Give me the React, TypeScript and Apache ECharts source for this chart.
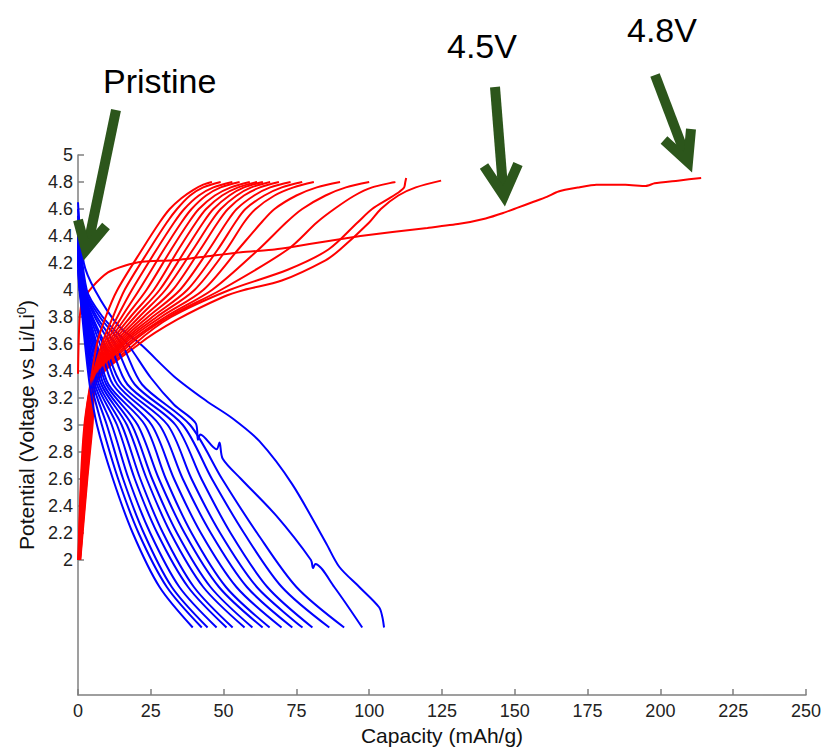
import React, { useEffect, useRef } from "react";
import * as echarts from "echarts";

// ---------- data (capacity mAh/g, potential V) ----------
const xTickValues = [0, 25, 50, 75, 100, 125, 150, 175, 200, 225, 250];
const yTickValues = [2, 2.2, 2.4, 2.6, 2.8, 3, 3.2, 3.4, 3.6, 3.8, 4, 4.2, 4.4, 4.6, 4.8, 5];

const pristineCharge: number[][] = [
  [0, 3.38], [0.2, 3.6], [0.6, 3.8], [1.5, 3.92], [4.8, 4.02], [10.3, 4.13], [16, 4.18], [22, 4.21],
  [33, 4.22], [44.5, 4.25], [56, 4.28], [67.5, 4.3], [74, 4.32], [85, 4.36], [97, 4.4], [108, 4.43],
  [120, 4.46], [131, 4.49], [140, 4.53], [146, 4.57], [151, 4.61], [156, 4.65], [161, 4.69],
  [165, 4.73], [172, 4.76], [178, 4.78], [188, 4.78], [195, 4.77], [198, 4.79], [206, 4.81], [214, 4.83],
];

// later charge curves, largest capacity first (cycle order)
const chargeCurves: number[][][] = [
  [[0.8, 2.0], [3.2, 2.6], [5.0, 3.0], [6.0, 3.3], [21, 3.6], [34, 3.78], [50, 3.95], [57, 4.0], [70, 4.07], [85, 4.22], [90, 4.3], [100, 4.5], [104, 4.6], [110, 4.7], [116, 4.76], [124.7, 4.81]],
  [[0.7, 2.0], [3.0, 2.6], [4.8, 3.0], [5.9, 3.3], [19.5, 3.6], [32, 3.8], [52, 4.0], [72, 4.15], [86, 4.3], [96, 4.5], [101, 4.6], [107, 4.68], [110.5, 4.73], [112, 4.76], [112.4, 4.8], [112.7, 4.83]],
  [[0.65, 2.0], [2.8, 2.6], [4.6, 3.0], [5.8, 3.3], [18, 3.6], [31, 3.8], [49, 4.0], [72, 4.3], [82, 4.5], [88, 4.6], [95, 4.7], [101, 4.76], [109, 4.8]],
  [[0.6, 2.0], [2.6, 2.6], [4.4, 3.0], [5.7, 3.3], [17, 3.6], [30, 3.8], [46, 4.0], [62, 4.3], [71.5, 4.5], [77, 4.6], [85, 4.7], [92, 4.76], [100, 4.8]],
  [[0.55, 2.0], [2.4, 2.6], [4.2, 3.0], [5.6, 3.3], [16, 3.6], [28.5, 3.8], [43, 4.0], [55, 4.3], [63, 4.5], [67.5, 4.6], [75, 4.7], [82, 4.76], [90, 4.8]],
  [[0.5, 2.0], [2.3, 2.6], [4.0, 3.0], [5.5, 3.3], [15.2, 3.6], [27, 3.8], [40, 4.0], [51, 4.3], [57, 4.5], [61, 4.6], [67.5, 4.7], [74, 4.76], [81, 4.8]],
  [[0.45, 2.0], [2.2, 2.6], [3.8, 3.0], [5.4, 3.3], [14.5, 3.6], [25.5, 3.8], [37.5, 4.0], [48, 4.3], [54, 4.5], [57.5, 4.6], [64, 4.7], [70, 4.76], [77, 4.8]],
  [[0.4, 2.0], [2.1, 2.6], [3.6, 3.0], [5.3, 3.3], [13.8, 3.6], [24, 3.8], [35, 4.0], [45, 4.3], [51, 4.5], [54.5, 4.6], [60.5, 4.7], [66, 4.76], [73, 4.8]],
  [[0.4, 2.0], [2.0, 2.6], [3.5, 3.0], [5.2, 3.3], [13.1, 3.6], [22.5, 3.8], [32.5, 4.0], [42, 4.3], [48, 4.5], [51.5, 4.6], [57, 4.7], [62.5, 4.76], [69, 4.8]],
  [[0.35, 2.0], [1.9, 2.6], [3.4, 3.0], [5.1, 3.3], [12.4, 3.6], [21, 3.8], [30, 4.0], [39.5, 4.3], [45.5, 4.5], [49, 4.6], [54.5, 4.7], [59.5, 4.76], [66, 4.8]],
  [[0.3, 2.0], [1.8, 2.6], [3.2, 3.0], [5.0, 3.3], [11.7, 3.6], [19.5, 3.8], [28, 4.0], [37, 4.3], [43, 4.5], [46.5, 4.6], [52, 4.7], [57, 4.76], [63.5, 4.8]],
  [[0.3, 2.0], [1.7, 2.6], [3.0, 3.0], [4.9, 3.3], [11, 3.6], [18, 3.8], [26, 4.0], [34.5, 4.3], [40.5, 4.5], [44, 4.6], [49.5, 4.7], [55, 4.76], [61.5, 4.8]],
  [[0.25, 2.0], [1.6, 2.6], [2.9, 3.0], [4.8, 3.3], [10.3, 3.6], [16.5, 3.8], [23.5, 4.0], [32, 4.3], [38, 4.5], [41.5, 4.6], [47, 4.7], [52.5, 4.76], [59, 4.8]],
  [[0.2, 2.0], [1.5, 2.6], [2.8, 3.0], [4.7, 3.3], [9.6, 3.6], [15, 3.8], [21, 4.0], [29.5, 4.3], [35.5, 4.5], [39, 4.6], [44, 4.7], [49, 4.76], [55.5, 4.8]],
  [[0.2, 2.0], [1.4, 2.6], [2.6, 3.0], [4.6, 3.3], [8.9, 3.6], [13.5, 3.8], [18.5, 4.0], [27, 4.3], [33, 4.5], [36.5, 4.6], [41.5, 4.7], [46.5, 4.76], [53, 4.8]],
  [[0.15, 2.0], [1.2, 2.6], [2.4, 3.0], [4.4, 3.3], [8.2, 3.6], [12, 3.8], [16, 4.0], [24.5, 4.3], [30.5, 4.5], [34, 4.6], [38.5, 4.7], [43, 4.76], [49, 4.8]],
  [[0.1, 2.0], [1.0, 2.6], [2.2, 3.0], [4.2, 3.3], [6.5, 3.6], [9.5, 3.8], [13.5, 4.0], [22, 4.3], [28, 4.5], [31.5, 4.6], [35.5, 4.68], [39.5, 4.74], [43, 4.78], [46, 4.8]],
];

// discharge curves, largest capacity first (cycle order)
const dischargeCurves: number[][][] = [
  [[0, 4.65], [2, 4.2], [5.8, 4.0], [13.7, 3.74], [21.9, 3.59], [33, 3.36], [44, 3.18], [53, 3.05], [62.3, 2.88], [73.6, 2.56], [85.3, 2.12], [89.7, 1.95], [96.6, 1.8], [103.4, 1.65], [104.5, 1.58], [105.1, 1.5]],
  [[0, 4.6], [3, 4.0], [8.5, 3.8], [17, 3.6], [25, 3.35], [33, 3.15], [40.5, 3.01], [41.2, 2.89], [42, 2.93], [47.6, 2.82], [48.6, 2.87], [49.7, 2.75], [56, 2.6], [68, 2.33], [80, 2.0], [80.7, 1.94], [81.5, 1.97], [88, 1.8], [97.6, 1.5]],
  [[0, 4.55], [2.5, 4.0], [7.5, 3.8], [15, 3.6], [22, 3.3], [38.5, 3.0], [49.5, 2.6], [61.5, 2.2], [75, 1.8], [91.4, 1.5]],
  [[0, 4.52], [2.2, 4.0], [6.5, 3.8], [12.7, 3.6], [19.5, 3.3], [36, 3.0], [46, 2.6], [57, 2.2], [70, 1.8], [86.3, 1.5]],
  [[0, 4.5], [2, 4.0], [5.8, 3.8], [11, 3.6], [17, 3.3], [33.5, 3.0], [42.4, 2.6], [52.4, 2.2], [65, 1.8], [80.5, 1.5]],
  [[0, 4.48], [1.8, 4.0], [5, 3.8], [9.2, 3.6], [15, 3.3], [30.8, 3.0], [39, 2.6], [48.8, 2.2], [61.4, 1.8], [77.1, 1.5]],
  [[0, 4.45], [1.6, 4.0], [4.6, 3.8], [8.5, 3.6], [13.5, 3.3], [28, 3.0], [36, 2.6], [45.6, 2.2], [58, 1.8], [73.6, 1.5]],
  [[0, 4.42], [1.5, 4.0], [4.2, 3.8], [7.5, 3.6], [12, 3.3], [25.3, 3.0], [33, 2.6], [42.2, 2.2], [54.4, 1.8], [69.9, 1.5]],
  [[0, 4.4], [1.4, 4.0], [3.8, 3.8], [6.5, 3.6], [10.5, 3.3], [23, 3.0], [30.2, 2.6], [39, 2.2], [50.8, 1.8], [65.8, 1.5]],
  [[0, 4.38], [1.3, 4.0], [3.5, 3.8], [6, 3.6], [9.7, 3.3], [20.5, 3.0], [27.8, 2.6], [36.6, 2.2], [48.4, 1.8], [63.4, 1.5]],
  [[0, 4.35], [1.2, 4.0], [3.2, 3.8], [5.5, 3.6], [8.8, 3.3], [18.5, 3.0], [25.5, 2.6], [34, 2.2], [45.5, 1.8], [59.9, 1.5]],
  [[0, 4.32], [1.1, 4.0], [2.9, 3.8], [5, 3.6], [8, 3.3], [16.8, 3.0], [23.6, 2.6], [31.8, 2.2], [43, 1.8], [57.2, 1.5]],
  [[0, 4.3], [1, 4.0], [2.6, 3.8], [4.5, 3.6], [7.2, 3.3], [15, 3.0], [21.4, 2.6], [29.2, 2.2], [39.8, 1.8], [53.1, 1.5]],
  [[0, 4.28], [0.9, 4.0], [2.4, 3.8], [4, 3.6], [6.5, 3.3], [13.4, 3.0], [19.5, 2.6], [27.2, 2.2], [37.8, 1.8], [51, 1.5]],
  [[0, 4.25], [0.8, 4.0], [2.2, 3.8], [3.6, 3.6], [5.8, 3.3], [11.6, 3.0], [17.4, 2.6], [24.8, 2.2], [34.8, 1.8], [47.6, 1.5]],
  [[0, 4.22], [0.7, 4.0], [2, 3.8], [3.2, 3.6], [5.2, 3.3], [9.9, 3.0], [15.5, 2.6], [22.6, 2.2], [32.2, 1.8], [44.5, 1.5]],
  [[0, 4.2], [0.6, 4.0], [1.8, 3.8], [2.8, 3.6], [4.6, 3.3], [8.2, 3.0], [13.8, 2.6], [20.8, 2.2], [30.5, 1.8], [42.5, 1.5]],
  [[0, 4.15], [0.5, 4.0], [1.5, 3.8], [2.4, 3.6], [4, 3.3], [6.5, 3.0], [12, 2.6], [18.8, 2.2], [28, 1.8], [39.4, 1.5]],
];

const annotations = ["Pristine", "4.5V", "4.8V"];

// ---------- chart ----------
const FONT = "'Liberation Sans', Arial, sans-serif";
const GREEN = "#2c561b";

function arrow(shaft: number[][], head: number[][]) {
  return [
    { type: "polyline", shape: { points: shaft }, style: { stroke: GREEN, lineWidth: 10, fill: null, lineCap: "butt" }, z: 100 },
    { type: "polyline", shape: { points: head }, style: { stroke: GREEN, lineWidth: 10, fill: null, lineJoin: "miter", lineCap: "butt" }, z: 100 },
  ];
}

export default function App() {
  const ref = useRef<HTMLDivElement>(null);
  useEffect(() => {
    if (!ref.current) return;
    const chart = echarts.init(ref.current, undefined, { renderer: "svg" });
    const series: any[] = [];
    const line = (data: number[][], color: string, name: string) => ({
      type: "line",
      name,
      data,
      showSymbol: false,
      smooth: 0.3,
      lineStyle: { color, width: 2 },
      itemStyle: { color },
      silent: true,
    });
    series.push(line(pristineCharge, "#ff0000", "charge-1"));
    const n = Math.max(chargeCurves.length, dischargeCurves.length);
    for (let i = 0; i < n; i++) {
      if (dischargeCurves[i]) series.push(line(dischargeCurves[i], "#0000ff", "discharge-" + (i + 1)));
      if (chargeCurves[i]) series.push(line(chargeCurves[i], "#ff0000", "charge-" + (i + 2)));
    }
    series[0].smooth = 0.2;

    const axisColor = "#7f7f7f";
    chart.setOption({
      animation: false,
      grid: { left: 78, right: 16, top: 155, bottom: 52, containLabel: false },
      xAxis: {
        type: "value",
        min: 0,
        max: 250,
        interval: 25,
        name: "Capacity (mAh/g)",
        nameLocation: "middle",
        nameGap: 30,
        nameTextStyle: { fontFamily: FONT, fontSize: 21, color: "#111" },
        axisLine: { show: true, lineStyle: { color: axisColor, width: 1.5 } },
        axisTick: { show: true, inside: true, length: 6, lineStyle: { color: axisColor, width: 1.5 } },
        axisLabel: { fontFamily: FONT, fontSize: 18, color: "#222", margin: 7, customValues: xTickValues },
        splitLine: { show: false },
      },
      yAxis: {
        type: "value",
        min: 1,
        max: 5,
        name: "Potential (Voltage vs Li/Li{sup|0})",
        nameLocation: "middle",
        nameGap: 40,
        nameRotate: 90,
        nameTextStyle: {
          fontFamily: FONT,
          fontSize: 21,
          color: "#111",
          rich: { sup: { fontFamily: FONT, fontSize: 13, color: "#111", padding: [0, 0, 10, 0] } },
        },
        axisLine: { show: true, lineStyle: { color: axisColor, width: 1.5 } },
        axisTick: { show: true, inside: true, length: 6, lineStyle: { color: axisColor, width: 1.5 }, customValues: yTickValues },
        axisLabel: {
          fontFamily: FONT,
          fontSize: 18,
          color: "#222",
          margin: 5,
          customValues: yTickValues,
          formatter: (v: number) => String(Math.round(v * 10) / 10),
        },
        splitLine: { show: false },
      },
      series,
      graphic: [
        { type: "text", x: 103, y: 81, style: { text: annotations[0], font: `34px ${FONT}`, fill: "#000", verticalAlign: "middle" }, z: 100 },
        { type: "text", x: 447, y: 46, style: { text: annotations[1], font: `34px ${FONT}`, fill: "#000", verticalAlign: "middle" }, z: 100 },
        { type: "text", x: 627, y: 30, style: { text: annotations[2], font: `34px ${FONT}`, fill: "#000", verticalAlign: "middle" }, z: 100 },
        ...arrow([[116, 110], [89, 240]], [[78, 220], [86, 250], [106, 226]]),
        ...arrow([[495, 87], [503, 188]], [[484, 166], [504, 196], [518, 164]]),
        ...arrow([[655, 75], [685, 154]], [[664, 140], [688, 162], [691, 129]]),
      ],
    });
    return () => chart.dispose();
  }, []);
  return <div ref={ref} style={{ position: "fixed", left: 0, top: 0, width: 824, height: 751, background: "#fff" }} />;
}
